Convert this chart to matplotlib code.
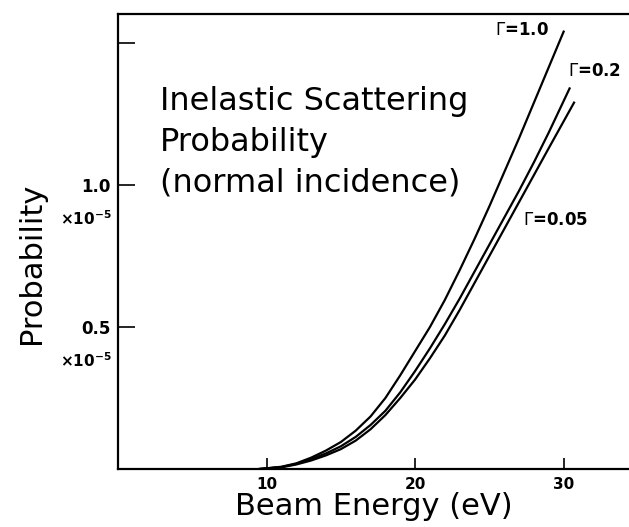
import matplotlib
matplotlib.use('Agg')
import matplotlib.pyplot as plt

# Beam energy (eV) and inelastic scattering probability (x1e-5)
energy_g10 = [9.5, 11, 12, 13, 14, 15, 16, 17, 18, 19, 20, 21, 22, 23, 24, 25, 26, 27, 28, 29, 30.0]
prob_g10 = [0, 0.008, 0.02, 0.04, 0.065, 0.095, 0.135, 0.185, 0.25, 0.33, 0.415, 0.50,
            0.595, 0.70, 0.81, 0.925, 1.045, 1.165, 1.29, 1.415, 1.54]

energy_g02 = [9.5, 11, 12, 13, 14, 15, 16, 17, 18, 19, 20, 21, 22, 23, 24, 25, 26, 27, 28, 29, 30.4]
prob_g02 = [0, 0.007, 0.018, 0.035, 0.055, 0.08, 0.113, 0.155, 0.205, 0.27, 0.345, 0.425,
            0.51, 0.60, 0.695, 0.79, 0.885, 0.98, 1.08, 1.185, 1.34]

energy_g005 = [9.5, 11, 12, 13, 14, 15, 16, 17, 18, 19, 20, 21, 22, 23, 24, 25, 26, 27, 28, 29, 30.7]
prob_g005 = [0, 0.006, 0.016, 0.03, 0.048, 0.07, 0.10, 0.14, 0.19, 0.25, 0.315, 0.39,
             0.47, 0.56, 0.655, 0.75, 0.845, 0.94, 1.035, 1.13, 1.29]

x_ticks = [10, 20, 30]
y_ticks = [0.5, 1.0, 1.5]
y_ticklabels = ['0.5', '1.0', '']

plt.rcParams['font.family'] = ['DejaVu Sans']

fig = plt.figure(figsize=(6.29, 5.27), dpi=100)
ax = fig.add_axes([0.1876, 0.110, 0.8124, 0.8634])

for e, p in [(energy_g10, prob_g10), (energy_g02, prob_g02), (energy_g005, prob_g005)]:
    ax.plot(e, p, color='black', lw=1.6)

ax.set_xlim(0, 34.4)
ax.set_ylim(0, 1.602)

ax.spines['right'].set_visible(False)
for s in ['left', 'bottom', 'top']:
    ax.spines[s].set_linewidth(1.6)

ax.set_xticks(x_ticks)
ax.set_xticklabels([str(t) for t in x_ticks], fontsize=11, fontweight='bold')
ax.set_yticks(y_ticks)
ax.set_yticklabels(y_ticklabels, fontsize=12, fontweight='bold')
ax.tick_params(axis='y', direction='in', length=12, width=1.2, pad=5)
ax.tick_params(axis='x', direction='in', length=8, width=1.2, pad=6)

# multiplier under each labelled y tick
for yv in [0.5, 1.0]:
    ax.text(-0.4, yv - 0.12, r'$\mathbf{\times 10^{-5}}$', fontsize=11,
            ha='right', va='center', clip_on=False)

ax.set_xlabel('Beam Energy (eV)', fontsize=22, labelpad=0)
ax.set_ylabel('Probability', fontsize=22)
ax.yaxis.set_label_coords(-0.141, 0.453)

ax.text(2.8, 1.35, 'Inelastic Scattering\nProbability\n(normal incidence)',
        fontsize=23, ha='left', va='top', linespacing=1.42)

ax.text(25.35, 1.546, r'$\Gamma$=1.0', fontsize=12, fontweight='bold', ha='left', va='center')
ax.text(30.27, 1.40, r'$\Gamma$=0.2', fontsize=12, fontweight='bold', ha='left', va='center')
ax.text(27.24, 0.877, r'$\Gamma$=0.05', fontsize=12, fontweight='bold', ha='left', va='center')

fig.savefig('out.png', dpi=100)
